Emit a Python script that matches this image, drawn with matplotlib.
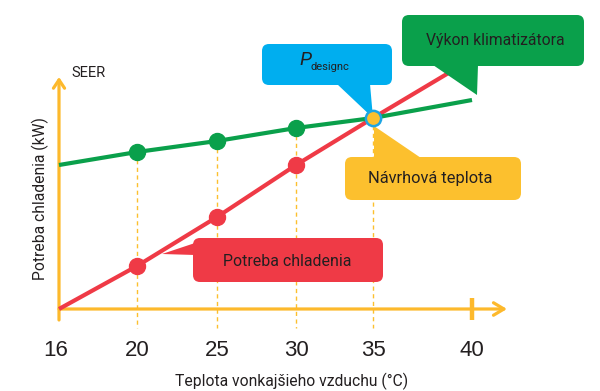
import numpy as np
import matplotlib
matplotlib.use("Agg")
import matplotlib.pyplot as plt
from matplotlib.patches import FancyBboxPatch, Polygon
from matplotlib.transforms import Affine2D, blended_transform_factory

# ---------------- data ----------------
temps = [16, 20, 25, 30, 35, 40]
x_tick_labels = ["16", "20", "25", "30", "35", "40"]
cooling_demand = [0.0, 4.3, 9.2, 14.4, 19.1, 25.0]      # Potreba chladenia
ac_capacity = [14.4, 15.7, 16.8, 18.1, 19.1, 20.9]      # Výkon klimatizátora
marker_temps = [20, 25, 30]
design_temp = 35
design_power = 19.1

x_label = "Teplota vonkajšieho vzduchu (°C)"
y_label = "Potreba chladenia (kW)"
y_title = "SEER"
lbl_capacity = "Výkon klimatizátora"
lbl_demand = "Potreba chladenia"
lbl_design = "Návrhová teplota"
lbl_p = "P"
lbl_p_sub = "designc"

# ---------------- style ----------------
GREEN = "#0AA04B"
RED = "#EF3A46"
BLUE = "#00AEEF"
YELLOW = "#FCC02E"
AXIS = "#FDB92C"
TXT = "#231F20"
FONT = "Roboto"

W, H = 600, 391
fig = plt.figure(figsize=(W / 100, H / 100), dpi=100)
ax = fig.add_axes([0, 0, 1, 1])
ax.set_axis_off()

# schematic (non-uniform) temperature axis: piecewise linear scale
_pos = np.array([59, 137, 217, 296, 373, 472], float)
_T = np.array(temps, float)
_s0 = (_pos[1] - _pos[0]) / (_T[1] - _T[0])
_s1 = (_pos[-1] - _pos[-2]) / (_T[-1] - _T[-2])


def fwd(t):
    t = np.asarray(t, float)
    return np.where(t < _T[0], _pos[0] + (t - _T[0]) * _s0,
                    np.where(t > _T[-1], _pos[-1] + (t - _T[-1]) * _s1,
                             np.interp(t, _T, _pos)))


def inv(p):
    p = np.asarray(p, float)
    return np.where(p < _pos[0], _T[0] + (p - _pos[0]) / _s0,
                    np.where(p > _pos[-1], _T[-1] + (p - _pos[-1]) / _s1,
                             np.interp(p, _pos, _T)))


ax.set_xscale("function", functions=(fwd, inv))
ax.set_xlim(float(inv(0)), float(inv(W)))
ax.set_ylim(-(H - 309) / 10.0, 309 / 10.0)

# pixel transform (top-down pixel coordinates)
PX = Affine2D().scale(1.0 / W, -1.0 / H).translate(0, 1) + fig.transFigure
XDATA_YPX = blended_transform_factory(ax.transData, PX)

# ---------------- dashed guide lines ----------------
for t in marker_temps + [design_temp]:
    i = temps.index(t)
    top = ac_capacity[i]
    ax.plot([t, t], [top, -1.9], color=YELLOW, lw=1.0, ls=(0, (3, 2.5)), zorder=1)

# ---------------- axes arrows ----------------
ax.annotate("", xy=(float(inv(507)), 0), xytext=(temps[0], 0),
            arrowprops=dict(arrowstyle="->,head_length=0.75,head_width=0.45",
                            color=AXIS, lw=2.3, shrinkA=0, shrinkB=0), zorder=2)
ax.annotate("", xy=(temps[0], 23.2), xytext=(temps[0], -1.1),
            arrowprops=dict(arrowstyle="->,head_length=0.6,head_width=0.4",
                            color=AXIS, lw=2.3, shrinkA=0, shrinkB=0), zorder=2)
ax.plot([temps[-1], temps[-1]], [1.1, -1.1], color=AXIS, lw=3.2,
        solid_capstyle="butt", zorder=2)

# ---------------- lines ----------------
ax.plot(temps, cooling_demand, color=RED, lw=3.0, solid_capstyle="butt", zorder=3)
ax.plot(temps, ac_capacity, color=GREEN, lw=3.0, solid_capstyle="butt", zorder=3)
mi = [temps.index(t) for t in marker_temps]
ax.plot(marker_temps, [cooling_demand[i] for i in mi], "o", color=RED, ms=11.5, zorder=4)
ax.plot(marker_temps, [ac_capacity[i] for i in mi], "o", color=GREEN, ms=11.5, zorder=4)

# ---------------- tick labels ----------------
for t, lab in zip(temps, x_tick_labels):
    off = -3 if t == temps[0] else 0
    ax.annotate(lab, xy=(t, 350), xycoords=XDATA_YPX, xytext=(off, 0),
                textcoords="offset pixels", ha="center", va="center",
                fontsize=16, family="Liberation Sans", color=TXT,
                annotation_clip=False)

renderer = fig.canvas.get_renderer()


def fit(txt, target, vertical=False):
    bb = txt.get_window_extent(renderer)
    w = bb.height if vertical else bb.width
    txt.set_fontsize(txt.get_fontsize() * target / w)
    return txt


fit(fig.text(292 / W, 1 - 381 / H, x_label, ha="center", va="center",
             family=FONT, fontsize=11, color=TXT), 232)
fit(fig.text(40 / W, 1 - 199 / H, y_label, ha="center", va="center", rotation=90,
             family=FONT, fontsize=11, color=TXT), 162, vertical=True)
fit(fig.text(89 / W, 1 - 73 / H, y_title, ha="center", va="center",
             family=FONT, fontsize=11, color=TXT), 34)


# ---------------- callout boxes ----------------
def callout(x0, y0, x1, y1, color, tri):
    box = FancyBboxPatch((x0, y0), x1 - x0, y1 - y0,
                         boxstyle="round,pad=0,rounding_size=7",
                         fc=color, ec="none", transform=PX, zorder=6, clip_on=False)
    ax.add_patch(box)
    ax.add_patch(Polygon(tri, closed=True, fc=color, ec="none", transform=PX,
                         zorder=6, clip_on=False))


# pixel of intersection point
ix, iy = ax.transData.transform((design_temp, design_power))
ipx = (ix, H - iy)

callout(402, 15, 584, 66, GREEN, [(433, 65), (478, 65), (477, 95)])
callout(262, 44, 392, 85, BLUE, [(337, 84), (370, 84), ipx])
callout(345, 157, 521, 200, YELLOW, [(374, 126), (374, 158), (421, 158)])
callout(193, 238, 383, 282, RED, [(162, 254), (195, 243), (195, 255)])

fit(fig.text(495 / W, 1 - 40 / H, lbl_capacity, ha="center", va="center",
             family=FONT, fontsize=11, color=TXT, zorder=7), 138)
fit(fig.text(430 / W, 1 - 178 / H, lbl_design, ha="center", va="center",
             family=FONT, fontsize=11, color=TXT, zorder=7), 123)
fit(fig.text(287 / W, 1 - 261 / H, lbl_demand, ha="center", va="center",
             family=FONT, fontsize=11, color=TXT, zorder=7), 127)
fig.text(299 / W, 1 - 60 / H, lbl_p, ha="left", va="center", family=FONT,
         style="italic", fontsize=14, color=TXT, zorder=7)
fig.text(310 / W, 1 - 67 / H, lbl_p_sub, ha="left", va="center", family=FONT,
         fontsize=8, color=TXT, zorder=7)

# intersection point
ax.plot([design_temp], [design_power], "o", ms=11, mfc=YELLOW, mec="#1EA5E3",
        mew=1.8, zorder=8)

fig.savefig("out.png", dpi=100)
